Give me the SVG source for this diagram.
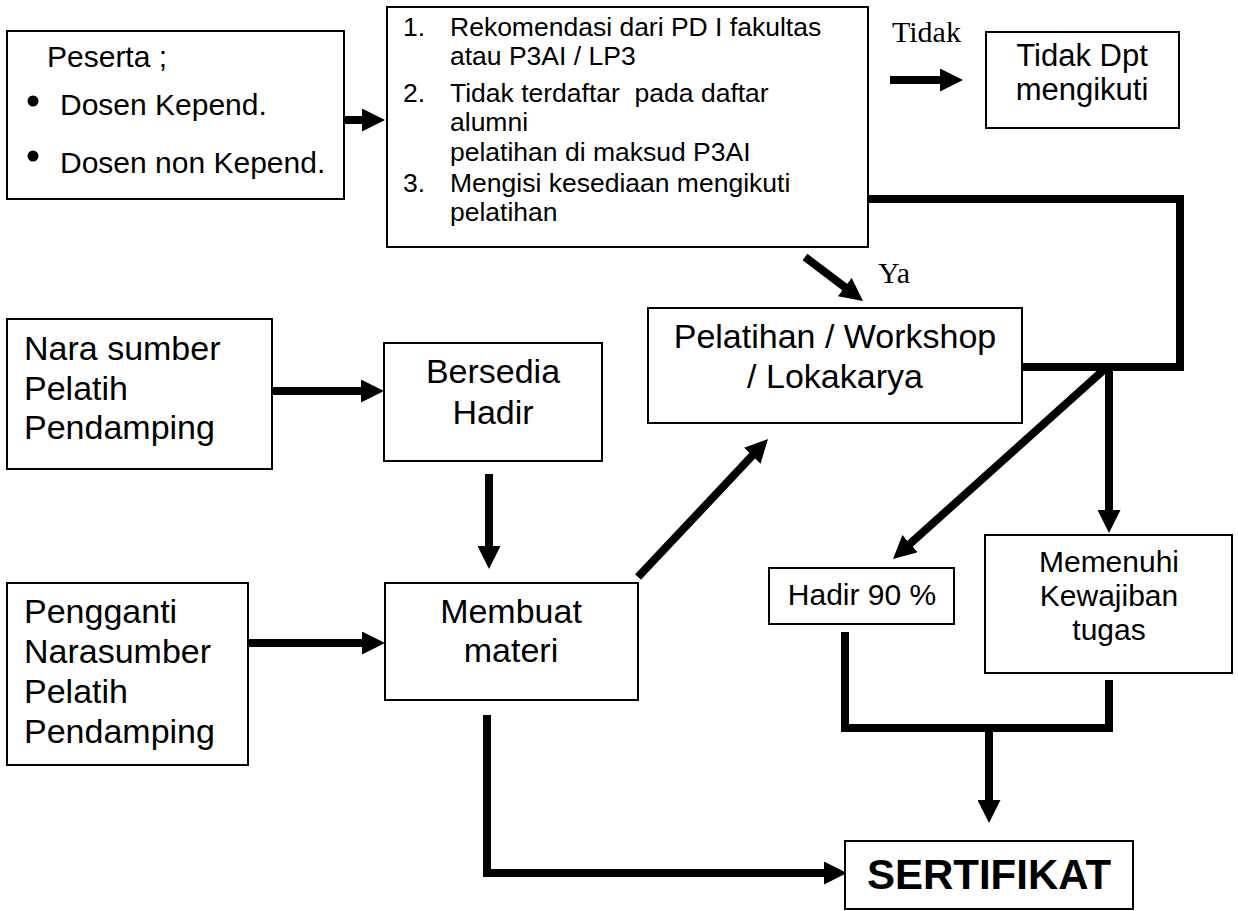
<svg xmlns="http://www.w3.org/2000/svg" width="1238" height="911" viewBox="0 0 1238 911">
  <style>
    .box { fill: #fff; stroke: #000; stroke-width: 2; }
    .t { font-family: "Liberation Sans", Arial, sans-serif; fill: #000; }
    .c { text-anchor: middle; }
    .serif { font-family: "Liberation Serif", "Times New Roman", serif; font-size: 30px; fill: #000; }
    .conn { fill: none; stroke: #000; stroke-width: 8; stroke-linejoin: miter; }
    .arr { marker-end: url(#ah); }
  </style>
  <defs>
    <marker id="ah" markerUnits="userSpaceOnUse" viewBox="0 0 23 23" markerWidth="23" markerHeight="23" refX="2" refY="11.5" orient="auto">
      <path d="M0,0 L23,11.5 L0,23 z" fill="#000"/>
    </marker>
  </defs>

  <rect width="1238" height="911" fill="#fff"/>

  <!-- connectors -->
  <g id="connectors">
    <path class="conn arr" d="M345,120 H364"/>
    <path class="conn arr" d="M890,80 H942"/>
    <path class="conn arr" d="M805,257 L846.3,288.3"/>
    <path class="conn arr" d="M272,391 H363"/>
    <path class="conn arr" d="M489,474 V548"/>
    <path class="conn arr" d="M248,643 H364"/>
    <path class="conn arr" d="M638,577 L753.6,454.3"/>
    <path class="conn" d="M868,199 H1180 V367 H1022"/>
    <path class="conn arr" d="M1107,367 L908.6,545"/>
    <path class="conn arr" d="M1109,367 V512"/>
    <path class="conn" d="M845,632 V728 H1109 V680"/>
    <path class="conn arr" d="M989,728 V802"/>
    <path class="conn arr" d="M487,715 V873 H826"/>
  </g>

  <!-- Yes / No labels -->
  <g id="labels">
    <text class="serif" x="892" y="42">Tidak</text>
    <text class="serif" x="878" y="283">Ya</text>
  </g>

  <g id="peserta">
    <rect class="box" x="7" y="31" width="337" height="168"/>
    <text class="t" x="47" y="67" font-size="30">Peserta ;</text>
    <circle cx="33" cy="101" r="5.5"/>
    <text class="t" x="60" y="115" font-size="30">Dosen Kepend.</text>
    <circle cx="33" cy="156" r="5.5"/>
    <text class="t" x="60" y="173" font-size="30">Dosen non Kepend.</text>
  </g>

  <g id="syarat">
    <rect class="box" x="387" y="7" width="481" height="240"/>
    <g class="t" font-size="26.5">
      <text x="403" y="36">1.</text>
      <text x="450" y="36">Rekomendasi dari PD I fakultas</text>
      <text x="450" y="65">atau P3AI / LP3</text>
      <text x="403" y="102">2.</text>
      <text x="450" y="102" xml:space="preserve">Tidak terdaftar  pada daftar</text>
      <text x="450" y="131">alumni</text>
      <text x="450" y="161">pelatihan di maksud P3AI</text>
      <text x="403" y="192">3.</text>
      <text x="450" y="192">Mengisi kesediaan mengikuti</text>
      <text x="450" y="221">pelatihan</text>
    </g>
  </g>

  <g id="tidak-dpt">
    <rect class="box" x="986" y="32" width="193" height="96"/>
    <text class="t c" x="1082" y="66" font-size="31">Tidak Dpt</text>
    <text class="t c" x="1082" y="100" font-size="31">mengikuti</text>
  </g>

  <g id="narasumber">
    <rect class="box" x="7" y="319" width="265" height="150"/>
    <text class="t" x="24" y="360" font-size="34">Nara sumber</text>
    <text class="t" x="24" y="400" font-size="34">Pelatih</text>
    <text class="t" x="24" y="439" font-size="34">Pendamping</text>
  </g>

  <g id="bersedia">
    <rect class="box" x="384" y="343" width="218" height="118"/>
    <text class="t c" x="493" y="383" font-size="34">Bersedia</text>
    <text class="t c" x="493" y="424" font-size="34">Hadir</text>
  </g>

  <g id="pengganti">
    <rect class="box" x="7" y="583" width="241" height="182"/>
    <text class="t" x="24" y="623" font-size="34">Pengganti</text>
    <text class="t" x="24" y="663" font-size="34">Narasumber</text>
    <text class="t" x="24" y="703" font-size="34">Pelatih</text>
    <text class="t" x="24" y="743" font-size="34">Pendamping</text>
  </g>

  <g id="membuat">
    <rect class="box" x="385" y="583" width="253" height="117"/>
    <text class="t c" x="511" y="623" font-size="34">Membuat</text>
    <text class="t c" x="511" y="662" font-size="34">materi</text>
  </g>

  <g id="pelatihan">
    <rect class="box" x="648" y="308" width="374" height="115"/>
    <text class="t c" x="835" y="348" font-size="34">Pelatihan / Workshop</text>
    <text class="t c" x="835" y="388" font-size="34">/ Lokakarya</text>
  </g>

  <g id="hadir">
    <rect class="box" x="769" y="568" width="185" height="56"/>
    <text class="t c" x="862" y="605" font-size="30">Hadir 90 %</text>
  </g>

  <g id="memenuhi">
    <rect class="box" x="985" y="535" width="247" height="138"/>
    <text class="t c" x="1109" y="572" font-size="30">Memenuhi</text>
    <text class="t c" x="1109" y="606" font-size="30">Kewajiban</text>
    <text class="t c" x="1109" y="640" font-size="30">tugas</text>
  </g>

  <g id="sertifikat">
    <rect class="box" x="845" y="841" width="288" height="68"/>
    <text class="t c" x="989" y="889" font-size="42" font-weight="bold">SERTIFIKAT</text>
  </g>
</svg>
